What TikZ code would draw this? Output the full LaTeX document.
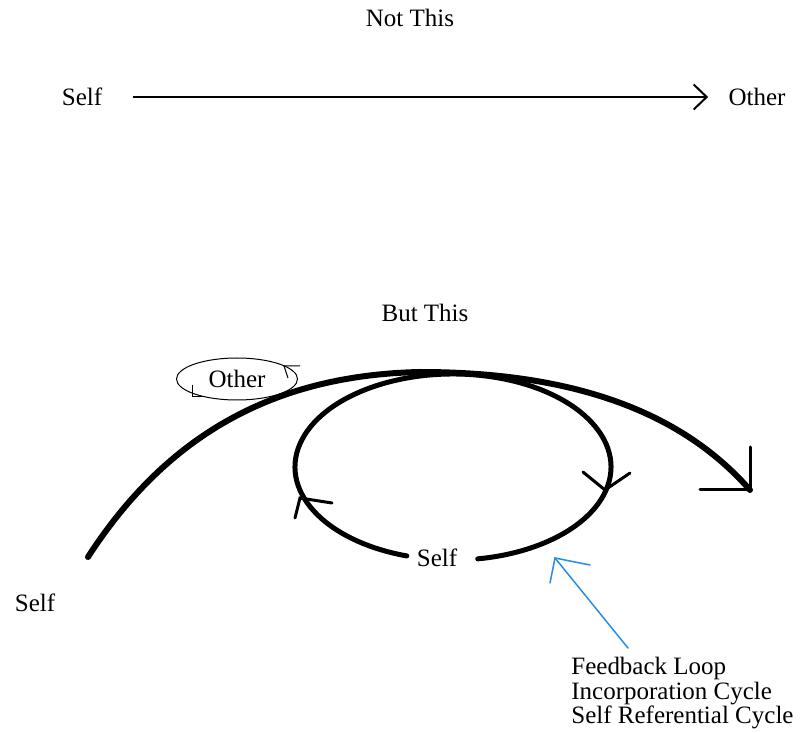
\documentclass[tikz,border=0pt]{standalone}
\usepackage{fontspec}
\setmainfont{Liberation Serif}
\usetikzlibrary{positioning, shapes.geometric, arrows.meta}

\definecolor{loopblue}{RGB}{40,140,230}

\begin{document}
\begin{tikzpicture}[x=0.5pt, y=-0.5pt,
        every node/.style={font=\fontsize{12.5}{12.25}\selectfont, inner sep=0pt},
        bigcurve/.style={line width=3pt, line cap=round},
        loopline/.style={line width=2.5pt, line cap=round},
        barb/.style={line width=1.5pt, line cap=round, line join=miter},
        pointer/.style={draw=loopblue, line width=0.75pt, line cap=round}]
        \useasboundingbox (0,0) rectangle (800,733);

        % not this
        \node (notthis) at (410,18) {Not This};
        \node (selfa) at (82,97) {Self};
        \node (othera) at (757,97) {Other};
        \draw[-{Straight Barb[length=6.5pt, width=12.5pt]}, line width=1pt, shorten <=15pt, shorten >=10pt] (selfa) -- (othera);

        % but this
        \node (butthis) at (425,313) {But This};
        \node[draw, ellipse, line width=0.5pt, minimum width=60.5pt, minimum height=21pt] (otherb) at (237,379) {Other};
        \draw[line width=0.5pt] (192,385) -- (192,397) -- (202,397);
        \draw[line width=0.5pt] (300,366) -- (284,366) -- (288,378);

        \coordinate (bigstart) at (88,557);
        \coordinate (bigtop) at (420,372);
        \coordinate (bigend) at (750,490);
        \draw[bigcurve] (bigstart) .. controls (170,430) and (280,375) .. (bigtop)
            .. controls (570,372) and (680,410) .. (bigend);
        \draw[barb] (700,490) -- (bigend) -- (750,447);

        \node (selfb) at (437,558) {Self};
        \node (selfc) at (35,603) {Self};

        \coordinate (loopcentre) at (453,467);
        \draw[loopline] (loopcentre) ++(107:158 and 93)
            arc[start angle=107, end angle=441, x radius=158, y radius=93];
        \coordinate (tipleft) at (300,498);
        \coordinate (tipright) at (605,490);
        \draw[barb] (332,503) -- (tipleft) -- (295,518);
        \draw[barb] (583,472) -- (tipright) -- (630,473);

        % feedback pointer
        \node[align=left, anchor=north west] (caption) at (571,657) {Feedback Loop\\Incorporation Cycle\\Self Referential Cycle};
        \coordinate (pointtip) at (555,558);
        \coordinate (pointtail) at (628,648);
        \draw[pointer] (pointtail) -- (pointtip);
        \draw[pointer] (550,583) -- (pointtip) -- (590,565);
    \end{tikzpicture}
\end{document}
